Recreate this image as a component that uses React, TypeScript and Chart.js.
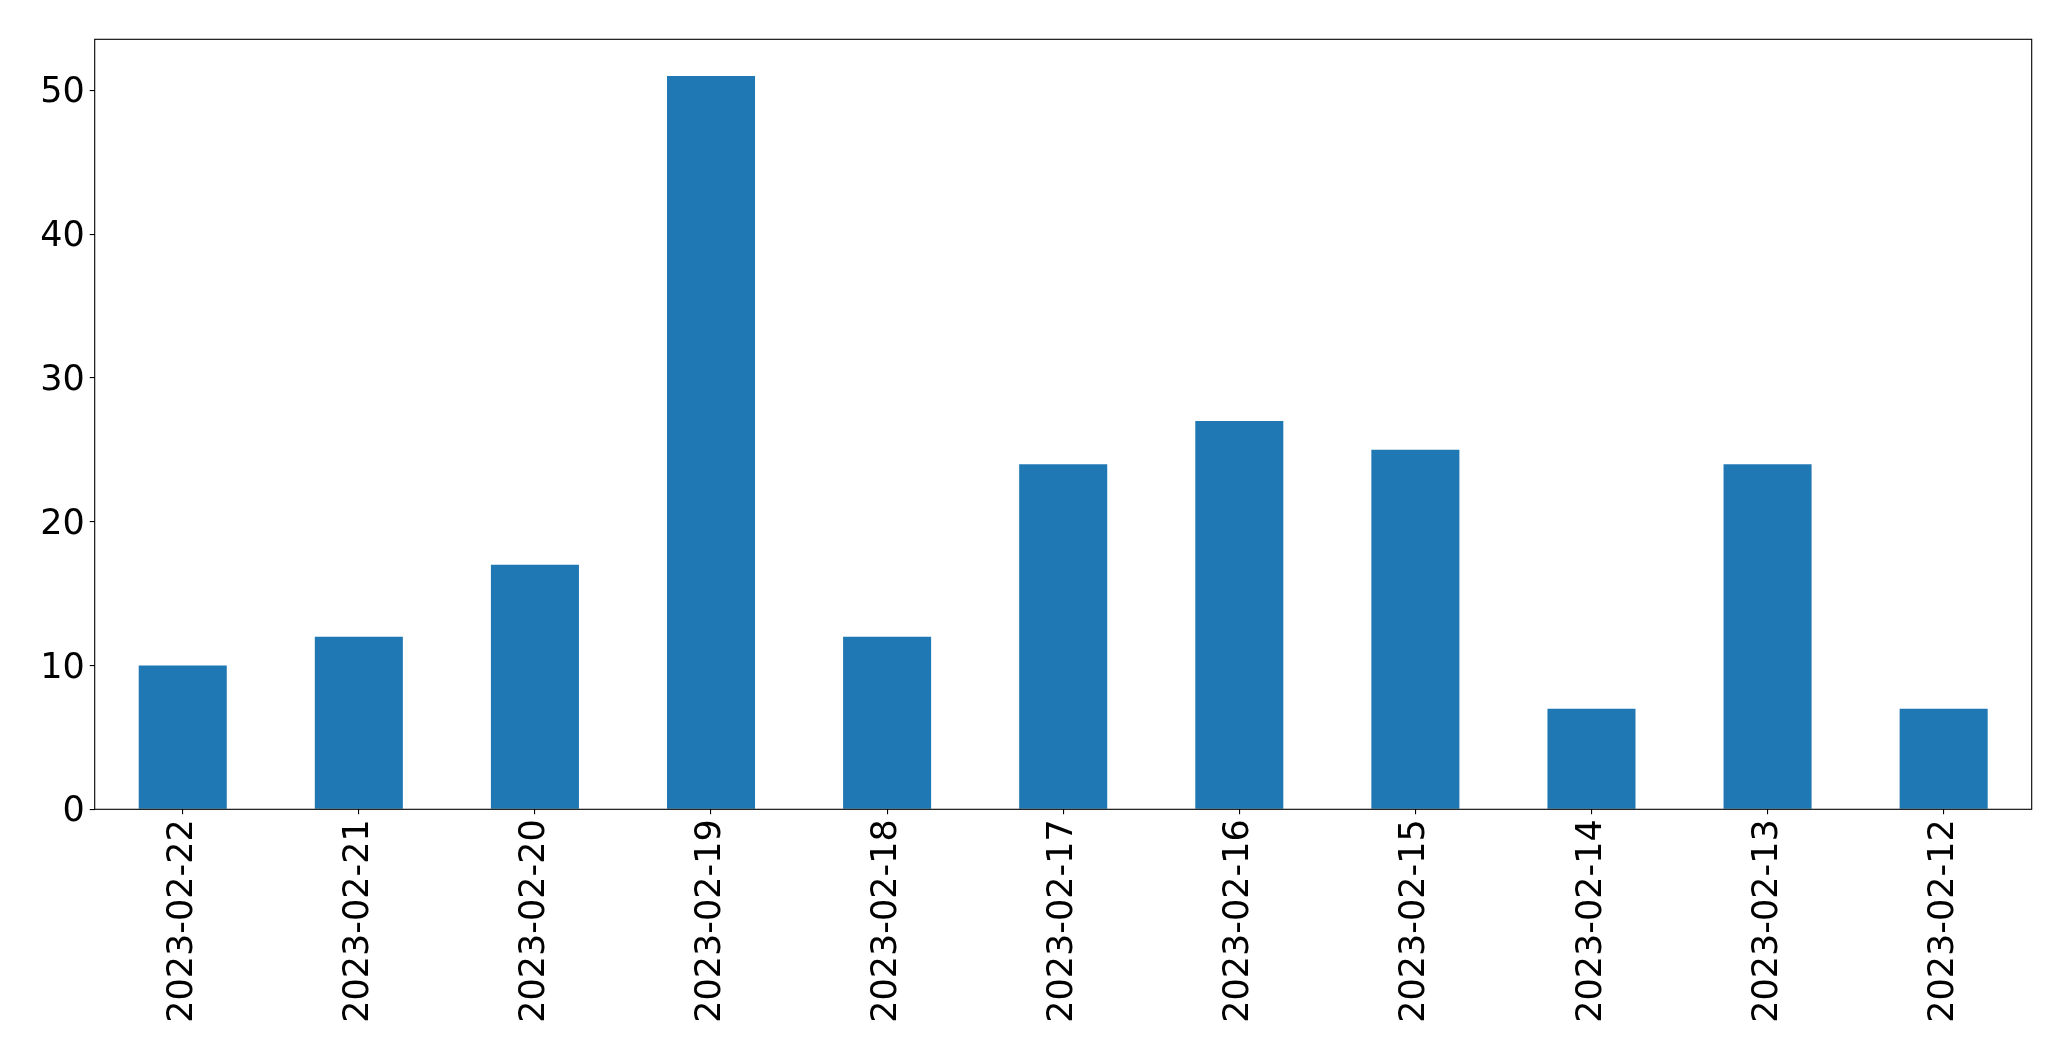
import React, { useEffect, useRef } from "react";
import { Chart, registerables } from "chart.js";

Chart.register(...registerables);

const categories = [
  "2023-02-22", "2023-02-21", "2023-02-20", "2023-02-19", "2023-02-18", "2023-02-17",
  "2023-02-16", "2023-02-15", "2023-02-14", "2023-02-13", "2023-02-12",
];
const counts = [10, 12, 17, 51, 12, 24, 27, 25, 7, 24, 7];
const yTicks = [0, 10, 20, 30, 40, 50];
const yMax = 53.55;

const W = 2071;
const H = 1061;
const LEFT = 94.7;
const TOP = 39.3;
const RIGHT = 2031.7;
const BOTTOM = 809.3;

const frame = {
  id: "frame",
  afterDraw(chart: any) {
    const { ctx, chartArea } = chart;
    ctx.save();
    ctx.strokeStyle = "#000";
    ctx.lineWidth = 1.1;
    ctx.strokeRect(chartArea.left, chartArea.top, chartArea.right - chartArea.left, chartArea.bottom - chartArea.top);
    ctx.restore();
  },
};

export default function App() {
  const ref = useRef<HTMLCanvasElement>(null);
  useEffect(() => {
    const font = { family: "'DejaVu Sans'", size: 35 };
    const chart = new Chart(ref.current!, {
      type: "bar",
      data: {
        labels: categories,
        datasets: [
          {
            data: counts,
            backgroundColor: "#1f77b4",
            categoryPercentage: 1,
            barPercentage: 0.5,
          },
        ],
      },
      options: {
        animation: false,
        responsive: false,
        devicePixelRatio: 1,
        layout: { padding: { left: 0, top: TOP, right: W - RIGHT, bottom: 0 } },
        plugins: { legend: { display: false }, tooltip: { enabled: false } },
        scales: {
          x: {
            offset: true,
            grid: { offset: false, drawOnChartArea: false, tickLength: 5, tickColor: "#000", lineWidth: 1.1 },
            border: { display: false },
            ticks: { color: "#000", font, minRotation: 90, maxRotation: 90, padding: 5, autoSkip: false },
            afterFit(scale: any) {
              scale.height = H - BOTTOM;
            },
          },
          y: {
            min: 0,
            max: yMax,
            grid: { drawOnChartArea: false, tickLength: 5, tickColor: "#000", lineWidth: 1.1 },
            border: { display: false },
            ticks: { color: "#000", font, padding: 5, labelOffset: 3 },
            afterBuildTicks(scale: any) {
              scale.ticks = yTicks.map((v) => ({ value: v }));
            },
            afterFit(scale: any) {
              scale.width = LEFT;
            },
          },
        },
      },
      plugins: [frame],
    });
    return () => chart.destroy();
  }, []);
  return (
    <canvas
      ref={ref}
      width={W}
      height={H}
      style={{ position: "fixed", left: 0, top: 0, width: W, height: H, background: "#fff" }}
    />
  );
}
